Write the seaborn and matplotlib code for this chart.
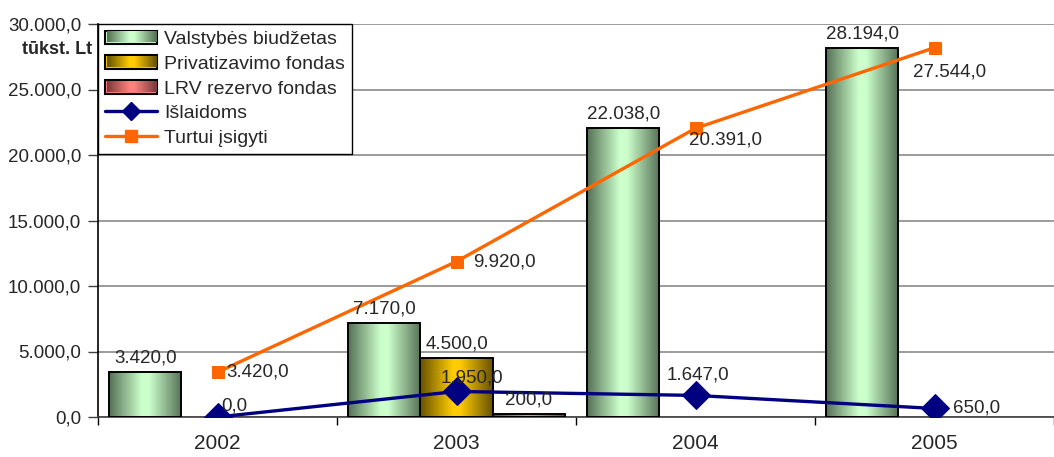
import numpy as np
import pandas as pd
import matplotlib
matplotlib.use("Agg")
import matplotlib.pyplot as plt
import seaborn as sns
from matplotlib.colors import LinearSegmentedColormap
from matplotlib.patches import Patch
from matplotlib.lines import Line2D

# Duomenys
metai = ["2002", "2003", "2004", "2005"]
valstybes = [3420.0, 7170.0, 22038.0, 28194.0]
privatizavimo = [np.nan, 4500.0, np.nan, np.nan]
lrv_rezervo = [np.nan, 200.0, np.nan, np.nan]
islaidoms = [0.0, 1950.0, 1647.0, 650.0]
# Turtui įsigyti: taškų aukštis paveiksle ir užrašytos reikšmės skiriasi
turtui_taskai = [3420.0, 11870.0, 22038.0, 28194.0]
turtui_uzrasai = [3420.0, 9920.0, 20391.0, 27544.0]

bar_names = ["Valstybės biudžetas", "Privatizavimo fondas", "LRV rezervo fondas"]
bar_series = [valstybes, privatizavimo, lrv_rezervo]
# (tamsi, šviesi) spalvos gradientui
bar_colors = [("#557055", "#ccffcc"), ("#665200", "#ffcc00"), ("#7a3c3c", "#ff8080")]

rows = []
for name, vals in zip(bar_names, bar_series):
    for m, v in zip(metai, vals):
        if not np.isnan(v):
            rows.append({"Metai": m, "Serija": name, "Reikšmė": v})
df = pd.DataFrame(rows)


def lt_fmt(v):
    s = f"{v:,.1f}"
    return s.replace(",", "X").replace(".", ",").replace("X", ".")


sns.set_style("white")
plt.rcParams["font.family"] = ["Liberation Sans", "DejaVu Sans"]

fig = plt.figure(figsize=(10.54, 4.57), dpi=100)
ax = fig.add_axes([98 / 1054, 40 / 457, (1054 - 98) / 1054, 393 / 457])

sns.barplot(data=df, x="Metai", y="Reikšmė", hue="Serija", order=metai,
            hue_order=bar_names, width=0.905, ax=ax, legend=False,
            edgecolor="black", linewidth=1.4, zorder=3)

# gradientas stulpeliams
grad = np.linspace(0, 1, 256).reshape(1, -1)
cmaps = [LinearSegmentedColormap.from_list(f"c{i}", [(0, d), (0.45, l), (0.55, l), (1, d)])
         for i, (d, l) in enumerate(bar_colors)]
for cont, cmap in zip(ax.containers, cmaps):
    for p in cont.patches:
        p.set_facecolor("none")
        x0, w, h = p.get_x(), p.get_width(), p.get_height()
        im = ax.imshow(grad, cmap=cmap, extent=[x0, x0 + w, 0, h], aspect="auto",
                       zorder=2.5, interpolation="bilinear")
        im.set_clip_path(p)
    ax.bar_label(cont, fmt=lt_fmt, padding=4, fontsize=13.5, zorder=6)

xs = np.arange(len(metai))
sns.lineplot(x=xs, y=islaidoms, color="#000080", marker="D", markersize=14,
             markeredgecolor="#000080", linewidth=2.4, ax=ax, zorder=5)
sns.lineplot(x=xs, y=turtui_taskai, color="#ff6600", marker="s", markersize=8,
             markeredgecolor="#ff6600", linewidth=2.4, ax=ax, zorder=5)

isl_off = [(4, 11), (-16, 13), (-29, 20), (18, 0)]
tur_off = [(9, 0), (17, 0), (-7, -12), (-21, -24)]
for x, v, o in zip(xs, islaidoms, isl_off):
    ax.annotate(lt_fmt(v), (x, v), xytext=o, textcoords="offset pixels",
                ha="left", va="center", fontsize=13.5, zorder=6)
for x, y, v, o in zip(xs, turtui_taskai, turtui_uzrasai, tur_off):
    ax.annotate(lt_fmt(v), (x, y), xytext=o, textcoords="offset pixels",
                ha="left", va="center", fontsize=13.5, zorder=6)

ax.set_xlim(-0.5, 3.5 - 11 / 243)
ax.set_ylim(0, 30000)
ax.set_yticks(np.arange(0, 30001, 5000))
ax.set_yticklabels([lt_fmt(v) for v in np.arange(0, 30001, 5000)], fontsize=13.5)
ax.yaxis.grid(True, color="#808080", linewidth=1.1)
ax.set_axisbelow(True)
ax.set_xticks(xs)
ax.set_xticklabels(metai, fontsize=15)
ax.set_xticks([-0.5, 0.5, 1.5, 2.5, 3.5], minor=True)
ax.tick_params(axis="x", which="major", length=0, pad=12)
ax.tick_params(axis="x", which="minor", length=6, width=1, color="black", bottom=True)
ax.tick_params(axis="y", length=7, width=1, color="#404040", pad=5, left=True)
ax.set_xlabel("")
ax.set_ylabel("")
for s in ["top", "right"]:
    ax.spines[s].set_visible(False)
ax.spines["left"].set_color("black")
ax.spines["left"].set_linewidth(1.2)
ax.spines["bottom"].set_color("#404040")
ax.spines["bottom"].set_linewidth(1.2)

fig.text(92 / 1054, 1 - 50 / 457, "tūkst. Lt", ha="right", va="center",
         fontsize=13, fontweight="bold")

handles = [Patch(facecolor=l, edgecolor="black", linewidth=1.5) for d, l in bar_colors]
handles += [Line2D([], [], color="#000080", marker="D", markersize=9, linewidth=2.4),
            Line2D([], [], color="#ff6600", marker="s", markersize=8, linewidth=2.4)]
labels = bar_names + ["Išlaidoms", "Turtui įsigyti"]
leg = ax.legend(handles, labels, loc="upper left", bbox_to_anchor=(0, 1),
                borderaxespad=0, fancybox=False, framealpha=1, edgecolor="black",
                fontsize=14, handlelength=2.7, handletextpad=0.35, labelspacing=0.36,
                borderpad=0.35)
leg.get_frame().set_linewidth(1.0)
leg.set_zorder(10)

# gradientas legendos ženklams
fig.canvas.draw()
for p, cmap in zip(leg.get_patches(), cmaps):
    bb = p.get_window_extent()
    w, h = int(round(bb.width)) - 3, int(round(bb.height)) - 3
    arr = cmap(np.tile(np.linspace(0, 1, w), (h, 1)))[:, :, :3]
    fig.figimage(arr, xo=int(round(bb.x0)) + 2, yo=int(round(bb.y0)) + 2, zorder=20)

fig.savefig("out.png", dpi=100)
